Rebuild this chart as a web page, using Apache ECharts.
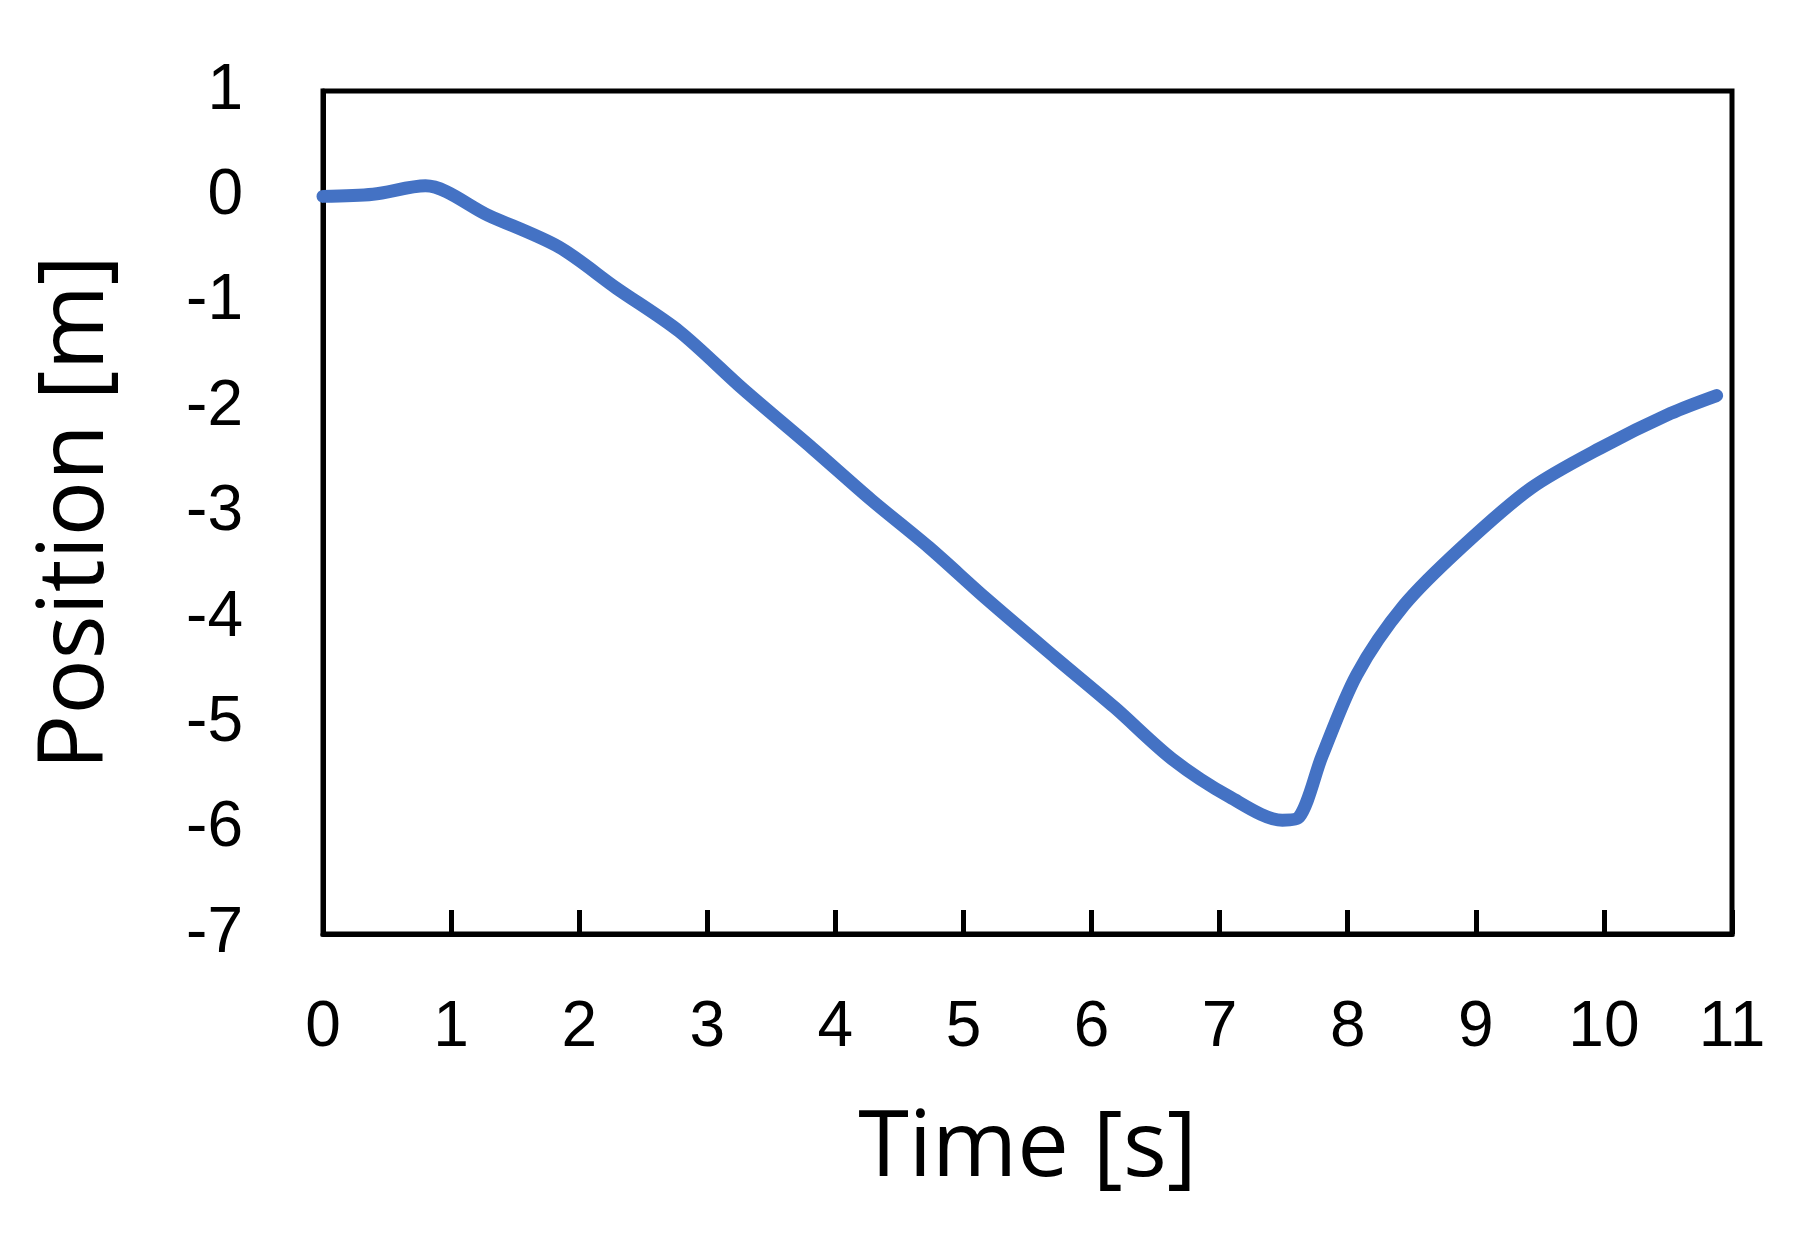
<!DOCTYPE html>
<html>
<head>
<meta charset="utf-8">
<script src="https://cdn.jsdelivr.net/npm/echarts@6/dist/echarts.min.js"></script>
<style>html,body{margin:0;background:#fff}#chart{width:1817px;height:1243px}</style>
</head>
<body>
<div id="chart"></div>
<script>
// time [s] and position [m]
const timeS = [0, 0.39, 0.8, 1.29, 1.84, 2.29, 2.78, 3.28, 3.82, 4.28, 4.73, 5.18, 5.72, 6.18, 6.63, 7.08, 7.49, 7.62, 7.8, 8.07, 8.44, 8.89, 9.43, 9.97, 10.52, 10.88]
const positionM = [0, 0.02, 0.1, -0.18, -0.48, -0.87, -1.28, -1.83, -2.39, -2.88, -3.33, -3.82, -4.38, -4.85, -5.34, -5.70, -5.92, -5.89, -5.31, -4.54, -3.88, -3.33, -2.77, -2.39, -2.06, -1.89]

const chart = echarts.init(document.getElementById('chart'))
const font = 'Liberation Sans, Arial, sans-serif'
chart.setOption({
  backgroundColor: '#fff',
  animation: false,
  grid: {left: 323, right: 85, top: 91, bottom: 309},
  xAxis: {
    type: 'value', min: 0, max: 11, interval: 1,
    name: 'Time [s]', nameLocation: 'middle', nameGap: 170,
    nameTextStyle: {fontSize: 92, color: '#000', fontFamily: 'Open Sans, sans-serif'},
    axisLine: {onZero: false, lineStyle: {color: '#000', width: 5}},
    axisTick: {inside: true, length: 24, lineStyle: {color: '#000', width: 5}},
    axisLabel: {fontSize: 64, color: '#000', margin: 62, fontFamily: font},
    splitLine: {show: false}
  },
  yAxis: {
    type: 'value', min: -7, max: 1, interval: 1,
    name: 'Position [m]', nameLocation: 'middle', nameGap: 200,
    nameTextStyle: {fontSize: 92, color: '#000', fontFamily: 'Open Sans, sans-serif'},
    axisLine: {show: true, onZero: false, lineStyle: {color: '#000', width: 5}},
    axisTick: {show: false},
    axisLabel: {fontSize: 64, color: '#000', margin: 80, fontFamily: font},
    splitLine: {show: false}
  },
  series: [{
    type: 'line',
    data: timeS.map((t, i) => [t, positionM[i]]),
    smooth: 0.3,
    showSymbol: false,
    lineStyle: {color: '#4472C4', width: 13, cap: 'round'}
  }],
  graphic: [{
    type: 'rect', shape: {x: 323, y: 91, width: 1409, height: 843},
    style: {fill: 'none', stroke: '#000', lineWidth: 5}, silent: true
  }]
})
</script>
</body>
</html>
